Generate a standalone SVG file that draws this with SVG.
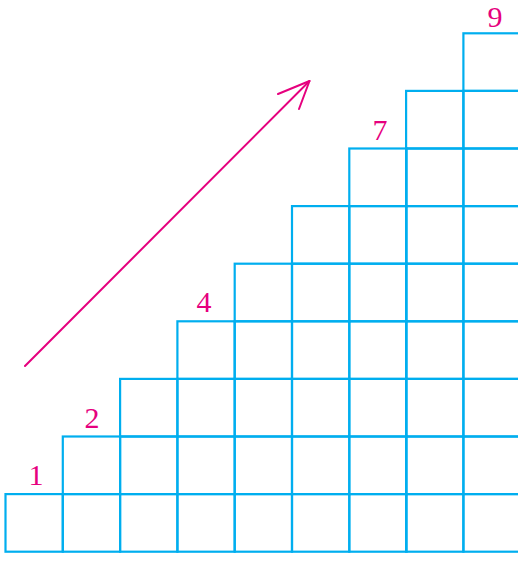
<svg xmlns="http://www.w3.org/2000/svg" width="518" height="561" viewBox="0 0 518 561">
<style>
.sq{fill:none;stroke:#00aeef;stroke-width:2.2}
.lbl{font-family:"Liberation Serif","DejaVu Serif",serif;font-size:30px;fill:#e6007e;text-anchor:middle}
.arr{fill:none;stroke:#e6007e;stroke-width:2;stroke-linecap:round;stroke-linejoin:round}
</style>
<defs>
<rect id="s" class="sq" width="57.3" height="57.6"/>
</defs>
<g id="col1"><use href="#s" x="5.5" y="494.1"/></g>
<g id="col2"><use href="#s" x="62.8" y="494.1"/><use href="#s" x="62.8" y="436.5"/></g>
<g id="col3"><use href="#s" x="120.1" y="494.1"/><use href="#s" x="120.1" y="436.5"/><use href="#s" x="120.1" y="378.9"/></g>
<g id="col4"><use href="#s" x="177.4" y="494.1"/><use href="#s" x="177.4" y="436.5"/><use href="#s" x="177.4" y="378.9"/><use href="#s" x="177.4" y="321.3"/></g>
<g id="col5"><use href="#s" x="234.7" y="494.1"/><use href="#s" x="234.7" y="436.5"/><use href="#s" x="234.7" y="378.9"/><use href="#s" x="234.7" y="321.3"/><use href="#s" x="234.7" y="263.7"/></g>
<g id="col6"><use href="#s" x="292" y="494.1"/><use href="#s" x="292" y="436.5"/><use href="#s" x="292" y="378.9"/><use href="#s" x="292" y="321.3"/><use href="#s" x="292" y="263.7"/><use href="#s" x="292" y="206.1"/></g>
<g id="col7"><use href="#s" x="349.3" y="494.1"/><use href="#s" x="349.3" y="436.5"/><use href="#s" x="349.3" y="378.9"/><use href="#s" x="349.3" y="321.3"/><use href="#s" x="349.3" y="263.7"/><use href="#s" x="349.3" y="206.1"/><use href="#s" x="349.3" y="148.5"/></g>
<g id="col8"><use href="#s" x="406.1" y="494.1"/><use href="#s" x="406.1" y="436.5"/><use href="#s" x="406.1" y="378.9"/><use href="#s" x="406.1" y="321.3"/><use href="#s" x="406.1" y="263.7"/><use href="#s" x="406.1" y="206.1"/><use href="#s" x="406.1" y="148.5"/><use href="#s" x="406.1" y="90.9"/></g>
<g id="col9"><use href="#s" x="463.4" y="494.1"/><use href="#s" x="463.4" y="436.5"/><use href="#s" x="463.4" y="378.9"/><use href="#s" x="463.4" y="321.3"/><use href="#s" x="463.4" y="263.7"/><use href="#s" x="463.4" y="206.1"/><use href="#s" x="463.4" y="148.5"/><use href="#s" x="463.4" y="90.9"/><use href="#s" x="463.4" y="33.3"/></g>
<g id="labels">
<text class="lbl" x="36" y="485">1</text>
<text class="lbl" x="92" y="428">2</text>
<text class="lbl" x="204" y="312">4</text>
<text class="lbl" x="380" y="140">7</text>
<text class="lbl" x="495" y="27">9</text>
</g>
<g id="connectors">
<path class="arr" d="M25,366 L309.5,81"/>
<path class="arr" d="M278,94 L309.5,81 L299,109"/>
</g>
</svg>
